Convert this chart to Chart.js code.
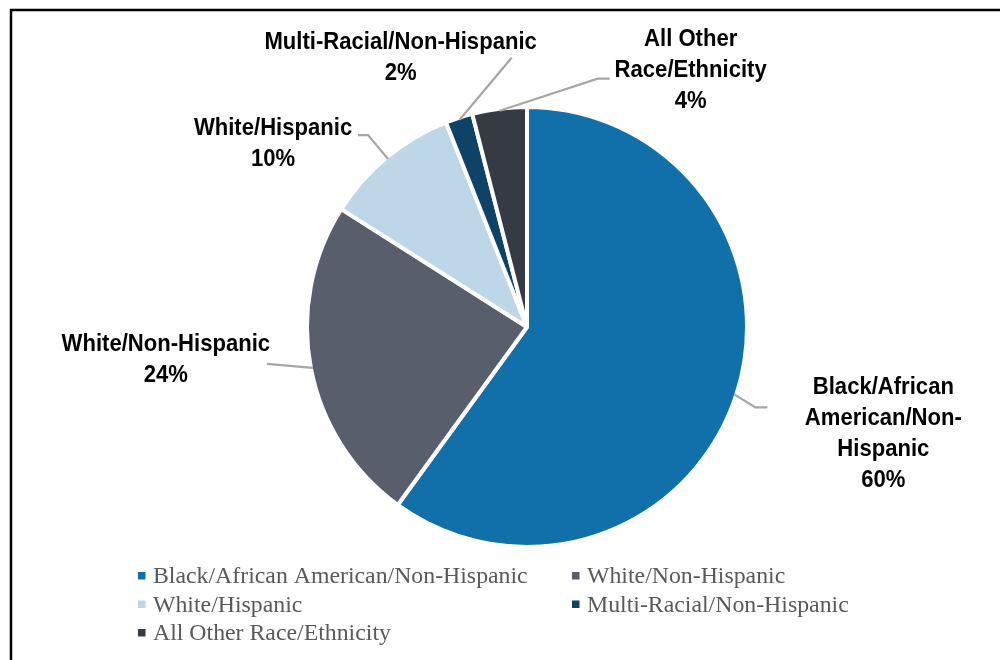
<!DOCTYPE html>
<html>
<head>
<meta charset="utf-8">
<script src="https://cdn.jsdelivr.net/npm/chart.js@4/dist/chart.umd.min.js"></script>
<style>
  html, body { margin: 0; padding: 0; background: #fff; }
  #wrap { width: 1000px; height: 660px; }
</style>
</head>
<body>
<div id="wrap"><canvas id="raceChart" width="1000" height="660"></canvas></div>
<script>
const categories = [
  "Black/African American/Non-Hispanic",
  "White/Non-Hispanic",
  "White/Hispanic",
  "Multi-Racial/Non-Hispanic",
  "All Other Race/Ethnicity"
];
const shares = [60, 24, 10, 2, 4];
const labelLines = [
  ["Black/African", "American/Non-", "Hispanic"],
  ["White/Non-Hispanic"],
  ["White/Hispanic"],
  ["Multi-Racial/Non-Hispanic"],
  ["All Other", "Race/Ethnicity"]
];
const colors = ["#1170aa", "#585e6b", "#bdd7e9", "#0e4266", "#353a43"];

// callout placement, relative to the point on the rim at each slice's middle
const callouts = [
  { leader: [[21, 13], [33, 13]], text: [149, -7] },
  { leader: [[-46, -4]], text: [-147, -23] },
  { leader: [[-20, -24], [-30, -24]], text: [-115, -31] },
  { leader: [[52, -62]], text: [-59, -77] },
  { leader: [[98, -32], [110, -32]], text: [191, -71] }
];

const calloutPlugin = {
  id: "callouts",
  afterDatasetsDraw(chart) {
    const ctx = chart.ctx;
    const meta = chart.getDatasetMeta(0);
    const squeeze = 0.92;
    ctx.save();
    meta.data.forEach((arc, i) => {
      const mid = (arc.startAngle + arc.endAngle) / 2;
      const r = arc.outerRadius - 2;
      const sx = arc.x + r * Math.cos(mid);
      const sy = arc.y + r * Math.sin(mid);
      const c = callouts[i];

      ctx.strokeStyle = "#a6a6a6";
      ctx.lineWidth = 2.2;
      ctx.beginPath();
      ctx.moveTo(sx, sy);
      c.leader.forEach(p => ctx.lineTo(sx + p[0], sy + p[1]));
      ctx.stroke();

      // narrow bold lettering: squeeze horizontally around the text centre
      const lines = labelLines[i].concat([shares[i] + "%"]);
      const tx = sx + c.text[0];
      ctx.save();
      ctx.translate(tx, 0);
      ctx.scale(squeeze, 1);
      ctx.fillStyle = "#000";
      ctx.font = "bold 24px 'Liberation Sans', Arial, sans-serif";
      ctx.textAlign = "center";
      ctx.textBaseline = "middle";
      lines.forEach((t, k) => {
        ctx.fillText(t, 0, sy + c.text[1] + k * 31);
      });
      ctx.restore();
    });
    ctx.restore();
  }
};

// two-column legend under the pie, plus the frame line
const legendPlugin = {
  id: "sideLegend",
  afterDraw(chart) {
    const ctx = chart.ctx;
    ctx.save();
    ctx.strokeStyle = "#000";
    ctx.lineWidth = 2.5;
    ctx.strokeRect(11, 10, 1010, 680);

    const colX = [138, 572];
    const rowY = [583, 611.5, 640];
    ctx.font = "23.8px 'Liberation Serif', 'Times New Roman', serif";
    ctx.textBaseline = "alphabetic";
    ctx.textAlign = "left";
    categories.forEach((name, i) => {
      const x = colX[i % 2];
      const y = rowY[Math.floor(i / 2)];
      ctx.fillStyle = colors[i];
      ctx.fillRect(x, y - 11, 7.5, 7.5);
      ctx.fillStyle = "#595959";
      ctx.fillText(name, x + 15, y);
    });
    ctx.restore();
  }
};

new Chart(document.getElementById("raceChart"), {
  type: "pie",
  data: {
    labels: categories,
    datasets: [{
      data: shares,
      backgroundColor: colors,
      borderColor: "#ffffff",
      borderWidth: 4
    }]
  },
  options: {
    responsive: false,
    animation: false,
    layout: { padding: { left: 305, right: 251, top: 105, bottom: 111 } },
    plugins: {
      legend: { display: false },
      tooltip: { enabled: false }
    }
  },
  plugins: [calloutPlugin, legendPlugin]
});
</script>
</body>
</html>
